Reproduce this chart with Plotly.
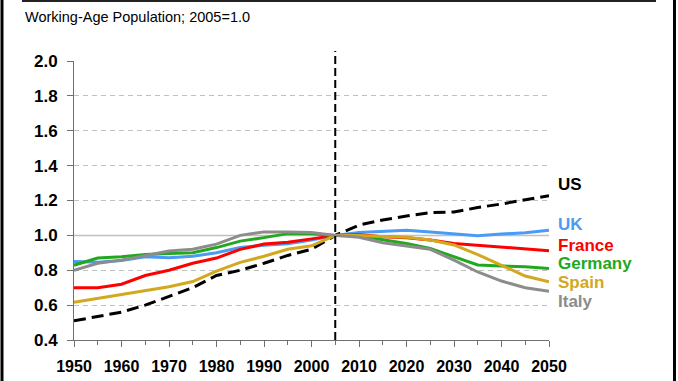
import plotly.graph_objects as go

years = [1950, 1955, 1960, 1965, 1970, 1975, 1980, 1985, 1990, 1995, 2000, 2005,
         2010, 2015, 2020, 2025, 2030, 2035, 2040, 2045, 2050]

us      = [0.51, 0.535, 0.56, 0.60, 0.65, 0.70, 0.77, 0.80, 0.84, 0.885, 0.92, 1.0,
           1.059, 1.088, 1.111, 1.13, 1.134, 1.16, 1.18, 1.203, 1.228]
uk      = [0.85, 0.846, 0.856, 0.877, 0.871, 0.88, 0.90, 0.93, 0.944, 0.952, 0.973, 1.0,
           1.017, 1.023, 1.03, 1.02, 1.011, 0.998, 1.008, 1.015, 1.03]
france  = [0.70, 0.70, 0.72, 0.77, 0.80, 0.84, 0.87, 0.92, 0.95, 0.96, 0.98, 1.0,
           1.004, 0.992, 0.987, 0.973, 0.954, 0.943, 0.93, 0.92, 0.912]
germany = [0.829, 0.87, 0.877, 0.89, 0.896, 0.90, 0.93, 0.967, 0.987, 1.01, 1.01, 1.0,
           0.996, 0.977, 0.954, 0.925, 0.877, 0.83, 0.824, 0.82, 0.81]
spain   = [0.617, 0.64, 0.66, 0.685, 0.705, 0.735, 0.795, 0.845, 0.88, 0.92, 0.94, 1.0,
           1.0, 0.994, 0.989, 0.973, 0.945, 0.89, 0.83, 0.767, 0.734]
italy   = [0.80, 0.84, 0.858, 0.886, 0.91, 0.92, 0.95, 1.0, 1.02, 1.02, 1.017, 1.0,
           0.989, 0.958, 0.939, 0.92, 0.858, 0.79, 0.738, 0.70, 0.68]

series_names = ["US", "UK", "France", "Germany", "Spain", "Italy"]
series_values = [us, uk, france, germany, spain, italy]
label_y = [1.289, 1.06, 0.941, 0.836, 0.731, 0.618]
colors = ["#000000", "#4A9BF4", "#FF0000", "#22A81E", "#D2A81E", "#8C8C8C"]

title_text = "Working-Age Population; 2005=1.0"
font_family = "Liberation Sans, Arial, sans-serif"

fig = go.Figure()

for name, vals, col, ly in zip(series_names, series_values, colors, label_y):
    dash = "12px,6px" if name == "US" else "solid"
    fig.add_trace(go.Scatter(x=years, y=vals, mode="lines", name=name,
                             line=dict(color=col, width=3, dash=dash),
                             showlegend=False, hoverinfo="skip"))
    fig.add_annotation(x=1.017, y=ly, xref="paper", yref="y",
                       text="<b>" + name + "</b>", showarrow=False,
                       xanchor="left", yanchor="middle", borderpad=0,
                       font=dict(family=font_family, size=17, color=col))

# solid reference line at 1.0
fig.add_shape(type="line", xref="x", yref="y", x0=1950, x1=2050, y0=1.0, y1=1.0,
              line=dict(color="#C0C0C0", width=1.5), layer="below")
# vertical dashed line at 2005
fig.add_shape(type="line", xref="x", yref="paper", x0=2005, x1=2005, y0=0, y1=1.036,
              line=dict(color="#000000", width=2, dash="8px,4px"), layer="above")

# frame
fig.add_shape(type="line", xref="paper", yref="paper", x0=-0.1516, x1=-0.1516, y0=-0.15, y1=1.22,
              line=dict(color="#000000", width=3))
fig.add_shape(type="line", xref="paper", yref="paper", x0=1.2642, x1=1.2642, y0=-0.15, y1=1.22,
              line=dict(color="#000000", width=3))
fig.add_shape(type="line", xref="paper", yref="paper", x0=-0.1095, x1=1.2253, y0=1.2151, y1=1.2151,
              line=dict(color="#222222", width=2))

fig.add_annotation(x=-0.107, y=1.158, xref="paper", yref="paper", text=title_text,
                   showarrow=False, xanchor="left", yanchor="middle",
                   font=dict(family=font_family, size=14.5, color="#000000"))

fig.update_layout(
    width=678, height=381,
    margin=dict(l=74, r=129, t=61, b=41),
    paper_bgcolor="white", plot_bgcolor="white",
    font=dict(family=font_family, color="#000000"),
    xaxis=dict(range=[1950, 2050], tickmode="linear", tick0=1950, dtick=10,
               showgrid=False, zeroline=False, showline=True, linecolor="#707070", linewidth=1,
               ticks="outside", ticklen=6, tickcolor="#707070", automargin=False,
               minor=dict(dtick=5, ticks="outside", ticklen=4, tickcolor="#707070", showgrid=False),
               tickfont=dict(family=font_family, size=16, color="#000000", weight="bold"),
               ticklabelstandoff=6),
    yaxis=dict(range=[0.4, 2.0], tickmode="linear", tick0=0.4, dtick=0.2, tickformat=".1f",
               showgrid=True, gridcolor="#C0C0C0", gridwidth=1, griddash="5px,4px",
               zeroline=False, showline=True, linecolor="#707070", linewidth=1,
               ticks="outside", ticklen=6, tickcolor="#707070", automargin=False,
               tickfont=dict(family=font_family, size=17, color="#000000", weight="bold"),
               ticklabelstandoff=6),
)

fig.write_html("out.html", config={"displayModeBar": False},
               post_script="document.body.style.margin='0';document.body.style.padding='0';document.body.style.overflow='hidden';")
